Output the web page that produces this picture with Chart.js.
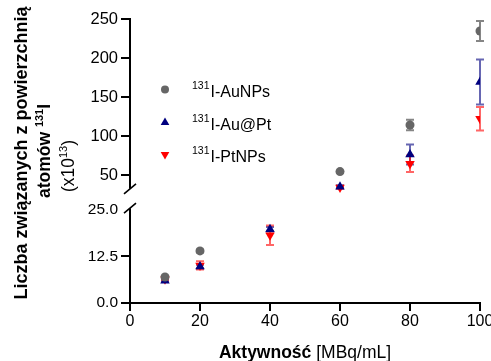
<!DOCTYPE html>
<html><head><meta charset="utf-8">
<script src="https://cdn.jsdelivr.net/npm/chart.js@4.4.0/dist/chart.umd.min.js"></script>
<style>
html,body{margin:0;padding:0;background:#fff;overflow:hidden;width:491px;height:361px}
#wrap{position:relative;width:500px;height:361px}
</style></head>
<body><div id="wrap"><canvas id="c" width="500" height="361"></canvas></div>
<script>
// ---------- data ----------
const activity = [10, 20, 40, 60, 80, 100];
const isotope = '131';
const seriesLabels = ['I-AuNPs', 'I-Au@Pt', 'I-PtNPs'];
const auNPs    = [7.0, 14.0, null, 55.0, 114.5, 234.7];
const auNPsErr = [0.3, 0.4, null, 1.5, 6.8, 12.8];
const auPt     = [6.0, 9.8, 19.8, 35.6, 76.8, 169.5];
const auPtErr  = [0.3, 0.5, 0.6, 2.0, 12.8, 28.8];
const ptNPs    = [6.4, 10.1, 18.2, 34.5, 65.0, 122.5];
const ptNPsErr = [0.3, 1.1, 2.6, 1.5, 10.6, 14.9];
const yTicks = [0, 12.5, 25, 50, 100, 150, 200, 250];
const xTicks = [0, 20, 40, 60, 80, 100];
const xTitleBold = 'Aktywność';
const xTitleRest = ' [MBq/mL]';
const yTitle1 = 'Liczba związanych z powierzchnią';
const yTitle2 = 'atomów ';
const yTitle2Sup = '131';
const yTitle2End = 'I';
const yTitle3 = '(x10';
const yTitle3Sup = '13';
const yTitle3End = ')';

// ---------- layout / style ----------
const FONT = "'Liberation Sans', Arial, Helvetica, sans-serif";
const BREAK = { lowMax: 25, lowFrac: 0.3275, highRef: 50, highFrac: 0.449, split: 28,
                upperAxisEnd: 33, lowerAxisEnd: 25.5 };
const colors = ['#666666', '#00007f', '#ff0000'];
const errColors = ['rgba(102,102,102,0.8)', 'rgba(0,0,127,0.6)', 'rgba(255,0,0,0.6)'];

Chart.defaults.font.family = FONT;
Chart.defaults.color = '#000';

const LinearScale = Chart.LinearScale || (Chart.scales && Chart.scales.LinearScale) || Chart.registry.getScale('linear');
class BrokenLinearScale extends LinearScale {
  _frac(v) {
    if (v <= BREAK.split) return v / BREAK.lowMax * BREAK.lowFrac;
    return BREAK.highFrac + (v - BREAK.highRef) / (this.max - BREAK.highRef) * (1 - BREAK.highFrac);
  }
  getPixelForValue(v) {
    if (v === null || v === undefined || isNaN(v)) return NaN;
    return this.getPixelForDecimal(this._frac(v));
  }
  getValueForPixel(p) {
    const d = this.getDecimalForPixel(p);
    const splitFrac = this._frac(BREAK.split);
    if (d <= splitFrac) return d / BREAK.lowFrac * BREAK.lowMax;
    return BREAK.highRef + (d - BREAK.highFrac) / (1 - BREAK.highFrac) * (this.max - BREAK.highRef);
  }
}
BrokenLinearScale.id = 'brokenLinear';
BrokenLinearScale.defaults = LinearScale.defaults;
Chart.register(BrokenLinearScale);

const seriesValues = [auNPs, auPt, ptNPs];
const seriesErrors = [auNPsErr, auPtErr, ptNPsErr];
const pointStyles = [
  { pointStyle: 'circle', radius: 4.5, rotation: 0 },
  { pointStyle: 'triangle', radius: 5.5, rotation: 0 },
  { pointStyle: 'triangle', radius: 5.5, rotation: 180 }
];

const datasets = seriesValues.map((vals, i) => ({
  label: '¹³¹' + seriesLabels[i],
  data: activity.map((x, j) => ({ x: x, y: vals[j] })).filter(p => p.y !== null),
  errors: seriesErrors[i],
  values: vals,
  showLine: false,
  pointStyle: pointStyles[i].pointStyle,
  pointRotation: pointStyles[i].rotation,
  pointRadius: pointStyles[i].radius,
  pointHoverRadius: pointStyles[i].radius,
  pointBackgroundColor: colors[i],
  pointBorderColor: colors[i],
  pointBorderWidth: 0,
  backgroundColor: colors[i],
  borderColor: colors[i]
}));

function drawRuns(ctx, runs, x, y) {
  let total = 0;
  runs.forEach(r => { ctx.font = r.font; r.w = ctx.measureText(r.text).width; total += r.w; });
  let cx = x - total / 2;
  runs.forEach(r => { ctx.font = r.font; ctx.fillText(r.text, cx, y + (r.dy || 0)); cx += r.w; });
}

const decor = {
  id: 'decor',
  beforeDatasetsDraw(chart) {
    const ctx = chart.ctx, xs = chart.scales.x, ys = chart.scales.y;
    ctx.save();
    ctx.lineWidth = 2;
    chart.data.datasets.forEach((ds, i) => {
      ctx.strokeStyle = errColors[i];
      ds.values.forEach((v, j) => {
        const e = ds.errors[j];
        if (v === null || e === null) return;
        const px = xs.getPixelForValue(activity[j]);
        const yt = ys.getPixelForValue(v + e), yb = ys.getPixelForValue(v - e);
        ctx.beginPath();
        ctx.moveTo(px, yt); ctx.lineTo(px, yb);
        ctx.moveTo(px - 4, yt); ctx.lineTo(px + 4, yt);
        ctx.moveTo(px - 4, yb); ctx.lineTo(px + 4, yb);
        ctx.stroke();
      });
    });
    ctx.restore();
  },
  afterDraw(chart) {
    const ctx = chart.ctx, ys = chart.scales.y, ca = chart.chartArea;
    ctx.save();
    // broken y axis line
    const ax = ca.left;
    const yTop = ys.getPixelForValue(250) - 1;
    const yUp = ys.getPixelForValue(BREAK.upperAxisEnd);
    const yLow = ys.getPixelForValue(BREAK.lowerAxisEnd);
    const yZero = ys.getPixelForValue(0) + 1;
    ctx.strokeStyle = '#000';
    ctx.lineWidth = 2;
    ctx.beginPath();
    ctx.moveTo(ax, yTop); ctx.lineTo(ax, yUp);
    ctx.moveTo(ax, yLow); ctx.lineTo(ax, yZero);
    ctx.stroke();
    ctx.lineWidth = 1.6;
    ctx.beginPath();
    ctx.moveTo(ax - 6, yUp + 5); ctx.lineTo(ax + 6, yUp - 5);
    ctx.moveTo(ax - 6, yLow + 5); ctx.lineTo(ax + 6, yLow - 5);
    ctx.stroke();

    // legend
    const legX = 165, legTextX = 192, legY = [89.5, 122.5, 154.5];
    chart.data.datasets.forEach((ds, i) => {
      ctx.fillStyle = colors[i];
      Chart.helpers.drawPoint(ctx, { pointStyle: pointStyles[i].pointStyle, rotation: pointStyles[i].rotation,
        radius: pointStyles[i].radius - 0.5, borderWidth: 0 }, legX, legY[i]);
      ctx.fillStyle = '#000';
      ctx.textAlign = 'left';
      ctx.textBaseline = 'alphabetic';
      ctx.font = '10.5px ' + FONT;
      ctx.fillText(isotope, legTextX, legY[i] - 0.5);
      const w = ctx.measureText(isotope).width;
      ctx.font = '16px ' + FONT;
      ctx.fillText(seriesLabels[i], legTextX + w + 1, legY[i] + 7.5);
    });

    // x title
    ctx.fillStyle = '#000';
    ctx.textAlign = 'left';
    ctx.textBaseline = 'alphabetic';
    drawRuns(ctx, [
      { text: xTitleBold, font: 'bold 17.5px ' + FONT },
      { text: xTitleRest, font: '17.5px ' + FONT }
    ], (ca.left + ca.right) / 2, 358);

    // y title (rotated): local x -> page up, local y -> page x
    ctx.save();
    ctx.rotate(-Math.PI / 2);
    drawRuns(ctx, [{ text: yTitle1, font: 'bold 18px ' + FONT }], -153, 27);
    drawRuns(ctx, [
      { text: yTitle2, font: 'bold 17.5px ' + FONT },
      { text: yTitle2Sup, font: 'bold 11px ' + FONT, dy: -7 },
      { text: yTitle2End, font: 'bold 17.5px ' + FONT }
    ], -151, 50);
    drawRuns(ctx, [
      { text: yTitle3, font: '17.5px ' + FONT },
      { text: yTitle3Sup, font: '11px ' + FONT, dy: -7 },
      { text: yTitle3End, font: '17.5px ' + FONT }
    ], -166, 74);
    ctx.restore();
    ctx.restore();
  }
};

new Chart(document.getElementById('c'), {
  type: 'scatter',
  data: { datasets: datasets },
  options: {
    responsive: false,
    animation: false,
    devicePixelRatio: 1,
    layout: { padding: { left: 0, top: 19, right: 20, bottom: 0 } },
    plugins: { legend: { display: false }, tooltip: { enabled: false }, title: { display: false } },
    scales: {
      x: {
        type: 'linear', min: 0, max: 100,
        afterBuildTicks: s => { s.ticks = xTicks.map(v => ({ value: v })); },
        afterFit: s => { s.height = 58; },
        ticks: { font: { size: 16 }, color: '#000', padding: 1, maxRotation: 0 },
        grid: { drawOnChartArea: false, drawTicks: true, tickLength: 8, tickWidth: 2, tickColor: '#000', color: '#000', lineWidth: 2 },
        border: { display: true, color: '#000', width: 2 }
      },
      y: {
        type: 'brokenLinear', min: 0, max: 250,
        afterBuildTicks: s => { s.ticks = yTicks.map(v => ({ value: v })); },
        afterFit: s => { s.width = 130; },
        ticks: {
          color: '#000', padding: 3,
          font: ctx => ({ size: (ctx.tick && ctx.tick.value <= 25) ? 15.5 : 16.5 }),
          callback: v => v <= 25 ? Number(v).toFixed(1) : String(v)
        },
        grid: { drawOnChartArea: false, drawTicks: true, tickLength: 9, tickWidth: 2,
          tickColor: ctx => (ctx.tick && ctx.tick.value === 25) ? 'rgba(0,0,0,0)' : '#000', color: '#000', lineWidth: 2 },
        border: { display: false }
      }
    }
  },
  plugins: [decor]
});
</script>
</body></html>
